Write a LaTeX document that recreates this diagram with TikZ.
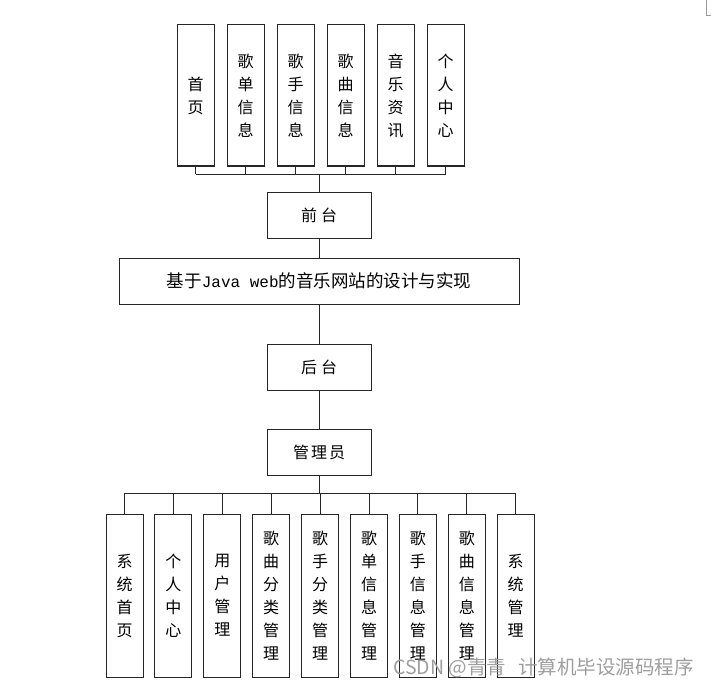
\documentclass[tikz,border=0pt]{standalone}
\usepackage{fontspec}
\setmainfont{Noto Sans CJK SC}
\newfontfamily\latinmono{Liberation Mono}
\begin{document}
\begin{tikzpicture}[x=1pt,y=-1pt,
  box/.style={draw=black!85,line width=1pt,inner sep=0pt,align=center,font=\fontsize{16}{23}\selectfont},
  vbox/.style={box,minimum width=37pt,minimum height=141pt},
  lbox/.style={box,minimum width=37pt,minimum height=163pt},
  hbox/.style={box,minimum width=104pt,minimum height=46pt},
  wire/.style={draw=black!85,line width=1pt}]
\useasboundingbox (0,0) rectangle (711,687);
% top boxes
\node[vbox] (t1) at (195.5,95.5) {首\\页};
\node[vbox] (t2) at (245.5,95.5) {歌\\单\\信\\息};
\node[vbox] (t3) at (295.5,95.5) {歌\\手\\信\\息};
\node[vbox] (t4) at (345.5,95.5) {歌\\曲\\信\\息};
\node[vbox] (t5) at (395.5,95.5) {音\\乐\\资\\讯};
\node[vbox] (t6) at (445.5,95.5) {个\\人\\中\\心};
\coordinate (tb) at (319,174);
\foreach \i in {1,...,6}{\draw[wire] (t\i.south) -- (t\i.south |- tb);}
\draw[wire] (t1.south |- tb) -- (t6.south |- tb);
% middle
\node[hbox] (qt) at (319,215) {前\hspace{4pt}台};
\draw[wire] (tb) -- (qt.north);
\node[box,minimum width=400pt,minimum height=46pt,font=\fontsize{17.5}{20}\selectfont] (main) at (319,281) {基于{\latinmono\fontsize{16}{20}\selectfont Java web}的音乐网站的设计与实现};
\draw[wire] (qt.south) -- (main.north);
\node[hbox] (ht) at (319,367) {后\hspace{4pt}台};
\draw[wire] (main.south) -- (ht.north);
\node[hbox] (gly) at (319,452) {管\hspace{2pt}理\hspace{2pt}员};
\draw[wire] (ht.south) -- (gly.north);
% bottom boxes
\node[lbox] (b1) at (124.5,595.5) {系\\统\\首\\页};
\node[lbox] (b2) at (173.4,595.5) {个\\人\\中\\心};
\node[lbox] (b3) at (222.3,595.5) {用\\户\\管\\理};
\node[lbox] (b4) at (271.2,595.5) {歌\\曲\\分\\类\\管\\理};
\node[lbox] (b5) at (320.1,595.5) {歌\\手\\分\\类\\管\\理};
\node[lbox] (b6) at (369.0,595.5) {歌\\单\\信\\息\\管\\理};
\node[lbox] (b7) at (417.9,595.5) {歌\\手\\信\\息\\管\\理};
\node[lbox] (b8) at (466.8,595.5) {歌\\曲\\信\\息\\管\\理};
\node[lbox] (b9) at (515.7,595.5) {系\\统\\管\\理};
\coordinate (bb) at (319,493);
\draw[wire] (gly.south) -- (bb);
\foreach \i in {1,...,9}{\draw[wire] (b\i.north) -- (b\i.north |- bb);}
\draw[wire] (b1.north |- bb) -- (b9.north |- bb);
% watermark and corner mark
\node[anchor=west,text=black!38,font=\fontsize{19.5}{22}\selectfont,inner sep=0pt] (wm) at (393,668) {CSDN @青青\hspace{12pt}计算机毕设源码程序};
\draw[black!40,line width=0.8pt] (706.5,0) -- (706.5,15.5) -- (711,15.5);
\end{tikzpicture}
\end{document}
